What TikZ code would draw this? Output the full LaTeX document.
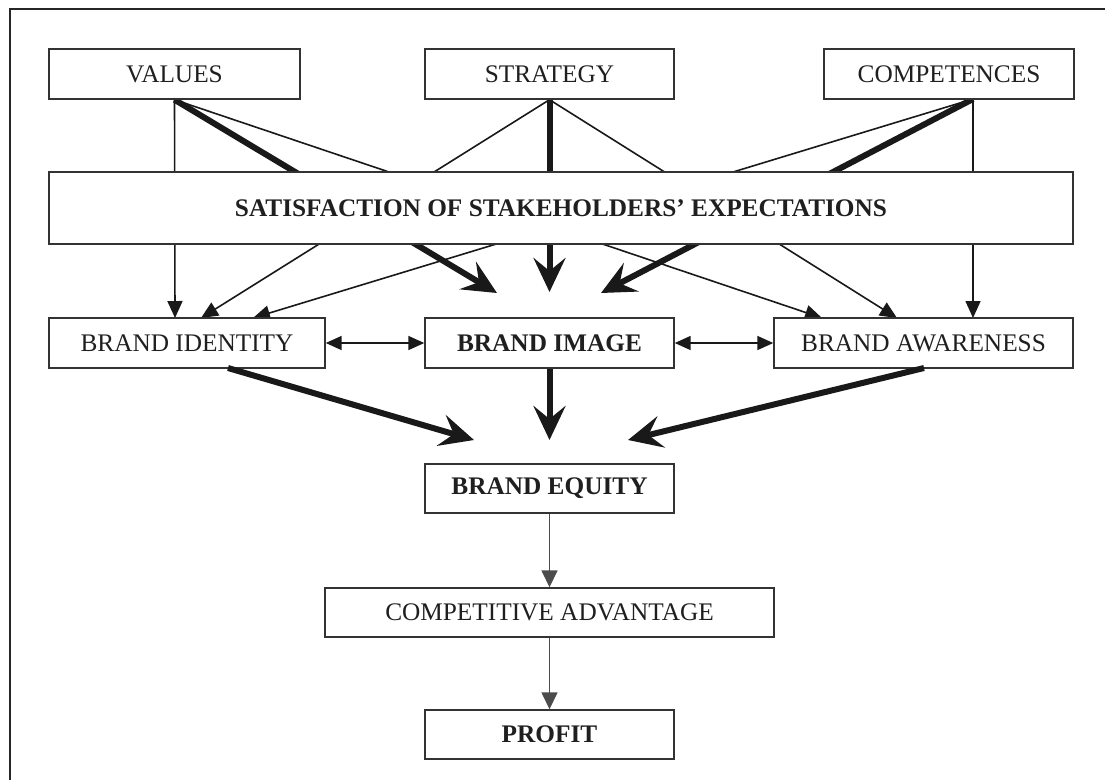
\documentclass[tikz,border=0pt]{standalone}
\usepackage{fontspec}
\setmainfont{Liberation Serif}
\usetikzlibrary{arrows.meta,backgrounds}
\begin{document}
\begin{tikzpicture}[x=1pt,y=-1pt,
  box/.style={draw=black!80, line width=1.4pt, fill=white, inner sep=0pt,
    minimum height=50pt, font=\fontsize{25.3}{29}\selectfont, text=black!88},
  bbox/.style={box, font=\fontsize{25.3}{29}\selectfont\bfseries},
  thinarrow/.style={line width=1.6pt, draw=black!90, -{Triangle[length=17pt,width=15pt]}},
  grayarrow/.style={line width=1.5pt, draw=black!70, -{Triangle[length=17pt,width=16pt]}},
  dblarrow/.style={line width=1.6pt, draw=black!90, {Triangle[length=16pt,width=14pt]}-{Triangle[length=16pt,width=14pt]}},
  thickarrow/.style={line width=6pt, draw=black!90, -{Stealth[length=34pt,width=32pt,inset=13pt]}},
  framestyle/.style={line width=1.4pt, draw=black!85}]
\useasboundingbox (0,0) rectangle (1105,780);
% frame
\coordinate (f1) at (10,780);
\coordinate (f2) at (10,9);
\coordinate (f3) at (1105,9);
\draw[framestyle] (f1) -- (f2) -- (f3);
% nodes
\node[box, minimum width=251pt] (values) at (174.5,74) {VALUES};
\node[box, minimum width=249pt] (strategy) at (549.5,74) {STRATEGY};
\node[box, minimum width=250pt] (comp) at (949,74) {COMPETENCES};
\node[bbox, minimum width=1024pt, minimum height=72pt] (sat) at (561,208) {SATISFACTION OF STAKEHOLDERS’ EXPECTATIONS};
\node[box, minimum width=276pt] (bid) at (187,343) {BRAND IDENTITY};
\node[bbox, minimum width=249pt] (bim) at (549.5,343) {BRAND IMAGE};
\node[box, minimum width=299pt] (ba) at (923.5,343) {BRAND AWARENESS};
\node[bbox, minimum width=249pt, minimum height=49pt] (be) at (549.5,488.5) {BRAND EQUITY};
\node[box, minimum width=449pt, minimum height=49pt] (ca) at (549.5,612.5) {COMPETITIVE ADVANTAGE};
\node[bbox, minimum width=249pt, minimum height=49pt] (profit) at (549.5,734.5) {PROFIT};
% connector end points
\coordinate (co) at (973,99);
\coordinate (tv1) at (175,318);
\coordinate (tv2) at (201,318);
\coordinate (tv3) at (253,318);
\coordinate (tm1) at (497,293);
\coordinate (tm2) at (549.5,292);
\coordinate (tm3) at (601,293);
\coordinate (ta1) at (822,318);
\coordinate (ta2) at (897,318);
\coordinate (ta3) at (973,318);
\coordinate (sb1) at (228,368);
\coordinate (sb3) at (924,368);
\coordinate (te1) at (474,440);
\coordinate (te2) at (549.5,440);
\coordinate (te3) at (628,440);
\begin{scope}[on background layer]
  \draw[thinarrow] (values.south) -- (tv1);
  \draw[thinarrow] (strategy.south) -- (tv2);
  \draw[thinarrow] (co) -- (tv3);
  \draw[thickarrow] (values.south) -- (tm1);
  \draw[thickarrow] (strategy.south) -- (tm2);
  \draw[thickarrow] (co) -- (tm3);
  \draw[thinarrow] (values.south) -- (ta1);
  \draw[thinarrow] (strategy.south) -- (ta2);
  \draw[thinarrow] (co) -- (ta3);
\end{scope}
\draw[dblarrow] (bid.east) -- (bim.west);
\draw[dblarrow] (bim.east) -- (ba.west);
\draw[thickarrow] (sb1) -- (te1);
\draw[thickarrow] (bim.south) -- (te2);
\draw[thickarrow] (sb3) -- (te3);
\draw[grayarrow] (be.south) -- (ca.north);
\draw[grayarrow] (ca.south) -- (profit.north);
\end{tikzpicture}
\end{document}
